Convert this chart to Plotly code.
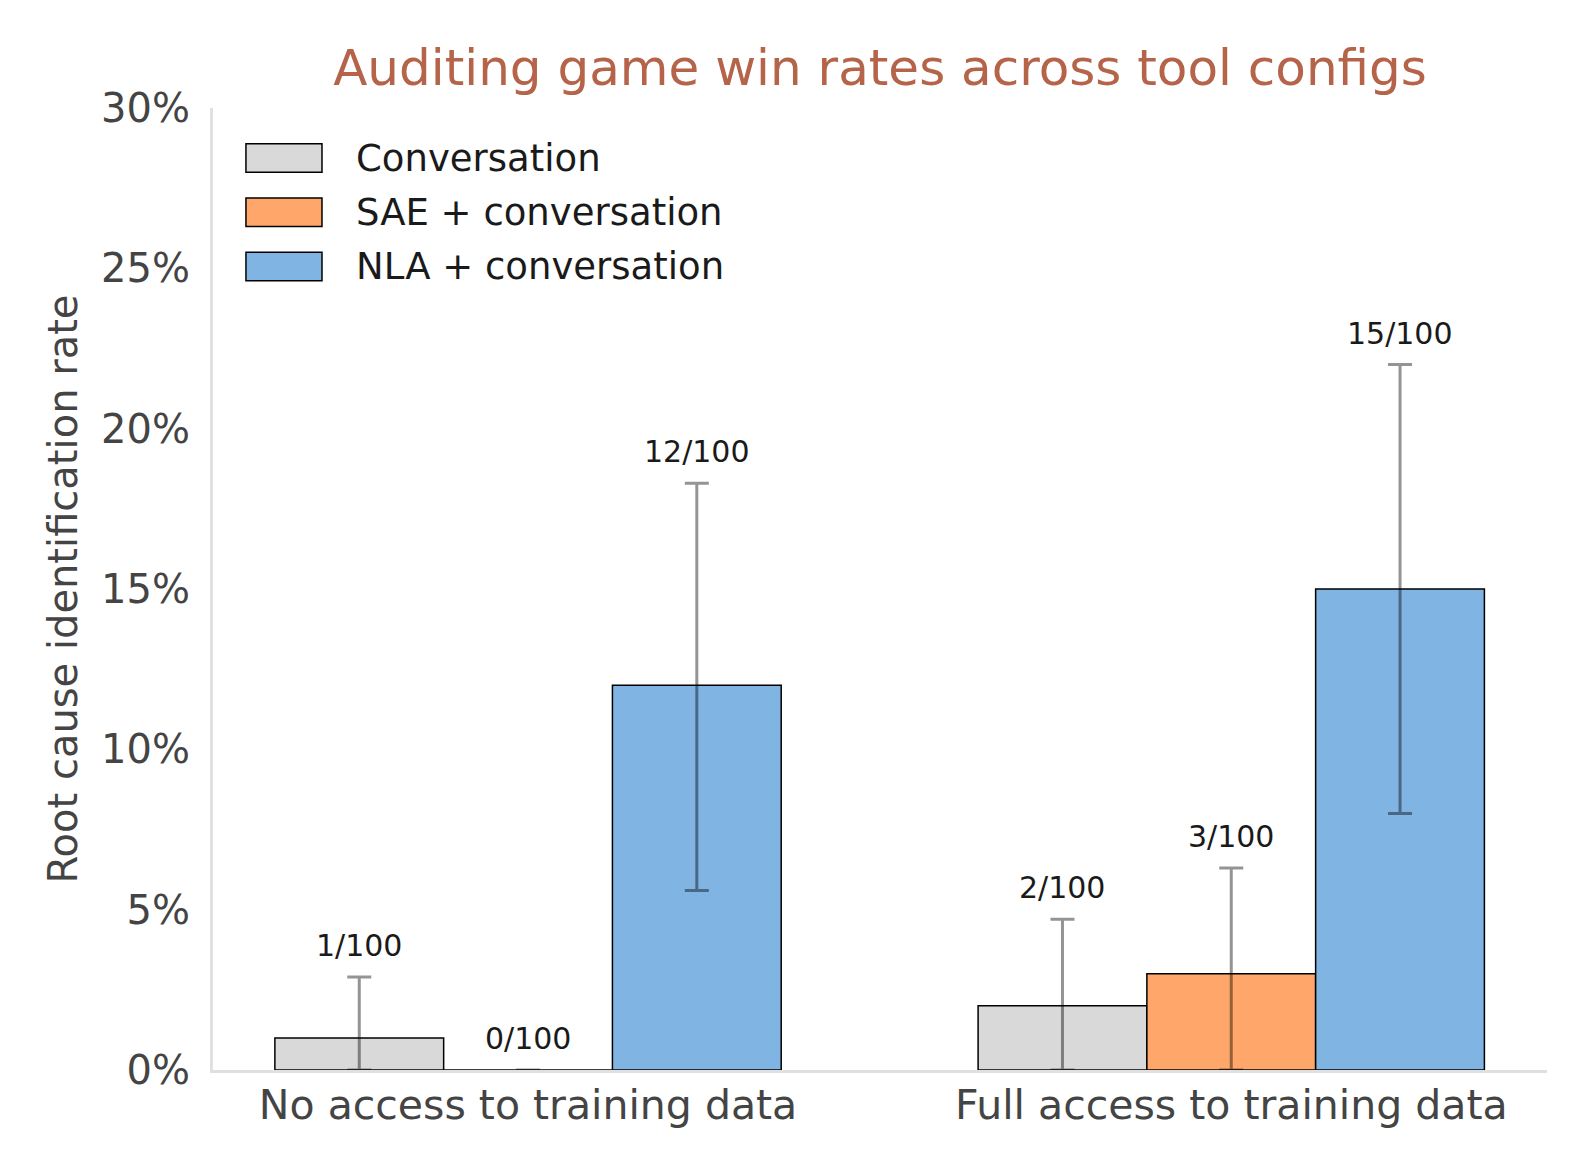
import plotly.graph_objects as go

groups = ["No access to training data", "Full access to training data"]
series = ["Conversation", "SAE + conversation", "NLA + conversation"]
colors = ["#d9d9d9", "#ffa76a", "#80b4e2"]

# win rates (%) per series, one value per group
rates = {
    "Conversation": [1, 2],
    "SAE + conversation": [0, 3],
    "NLA + conversation": [12, 15],
}
# confidence interval bounds (%)
ci_low = {
    "Conversation": [0.0, 0.0],
    "SAE + conversation": [0.0, 0.0],
    "NLA + conversation": [5.6, 8.0],
}
ci_high = {
    "Conversation": [2.9, 4.7],
    "SAE + conversation": [0.0, 6.3],
    "NLA + conversation": [18.3, 22.0],
}
counts = {
    "Conversation": ["1/100", "2/100"],
    "SAE + conversation": ["0/100", "3/100"],
    "NLA + conversation": ["12/100", "15/100"],
}
yticks = [0, 5, 10, 15, 20, 25, 30]

FONT = "DejaVu Sans"
TICK = "#444444"
bargap = 0.28
bar_w = (1 - bargap) / len(series)

fig = go.Figure()
xs = list(range(len(groups)))
for i, name in enumerate(series):
    vals = rates[name]
    fig.add_trace(go.Bar(
        x=xs, y=vals, name=name,
        marker=dict(color=colors[i], line=dict(color="black", width=1.5)),
        error_y=dict(
            type="data",
            array=[h - v for h, v in zip(ci_high[name], vals)],
            arrayminus=[v - l for l, v in zip(ci_low[name], vals)],
            color="rgba(0,0,0,0.42)", thickness=3, width=12,
        ),
        showlegend=False,
    ))
    off = (i - 1) * bar_w
    for g in xs:
        fig.add_annotation(
            x=g + off, y=ci_high[name][g], text=counts[name][g],
            showarrow=False, yanchor="bottom", yshift=12,
            font=dict(family=FONT, size=30, color="#1a1a1a"),
        )

# legend drawn by hand to get the wide swatches
for i, name in enumerate(series):
    mid = 0.948 - i * 0.0564
    fig.add_shape(type="rect", xref="paper", yref="paper",
                  x0=0.0247, x1=0.0817, y0=mid - 0.0148, y1=mid + 0.0148,
                  fillcolor=colors[i], line=dict(color="black", width=1.5))
    fig.add_annotation(xref="paper", yref="paper", x=0.1057, y=mid,
                       text=name, showarrow=False, xanchor="left", yanchor="middle",
                       font=dict(family=FONT, size=37, color="#1a1a1a"))

fig.update_layout(
    width=1590, height=1170,
    barmode="group", bargap=bargap, bargroupgap=0,
    plot_bgcolor="white", paper_bgcolor="white",
    margin=dict(l=213, r=43, t=108, b=100),
    title=dict(text="Auditing game win rates across tool configs",
               xref="paper", x=0.5, xanchor="center", y=0.942, yanchor="middle",
               font=dict(family=FONT, size=50, color="#b5644a")),
    xaxis=dict(tickvals=xs, ticktext=groups, range=[-0.448, 1.449],
               showline=True, linecolor="#e0e0e0", linewidth=3,
               showgrid=False, zeroline=False, ticks="", ticklabelstandoff=-3,
               tickfont=dict(family=FONT, size=41, color=TICK)),
    yaxis=dict(range=[0, 30], tickvals=yticks,
               ticktext=[f"{t}%" for t in yticks],
               showline=True, linecolor="#e0e0e0", linewidth=3,
               showgrid=False, zeroline=False, ticks="", ticklabelstandoff=12,
               tickfont=dict(family=FONT, size=40, color=TICK),
               title=dict(text="Root cause identification rate", standoff=12,
                          font=dict(family=FONT, size=40, color=TICK))),
)

fig.write_html("out.html", config={"displayModeBar": False},
               post_script="document.body.style.margin = '0';")
